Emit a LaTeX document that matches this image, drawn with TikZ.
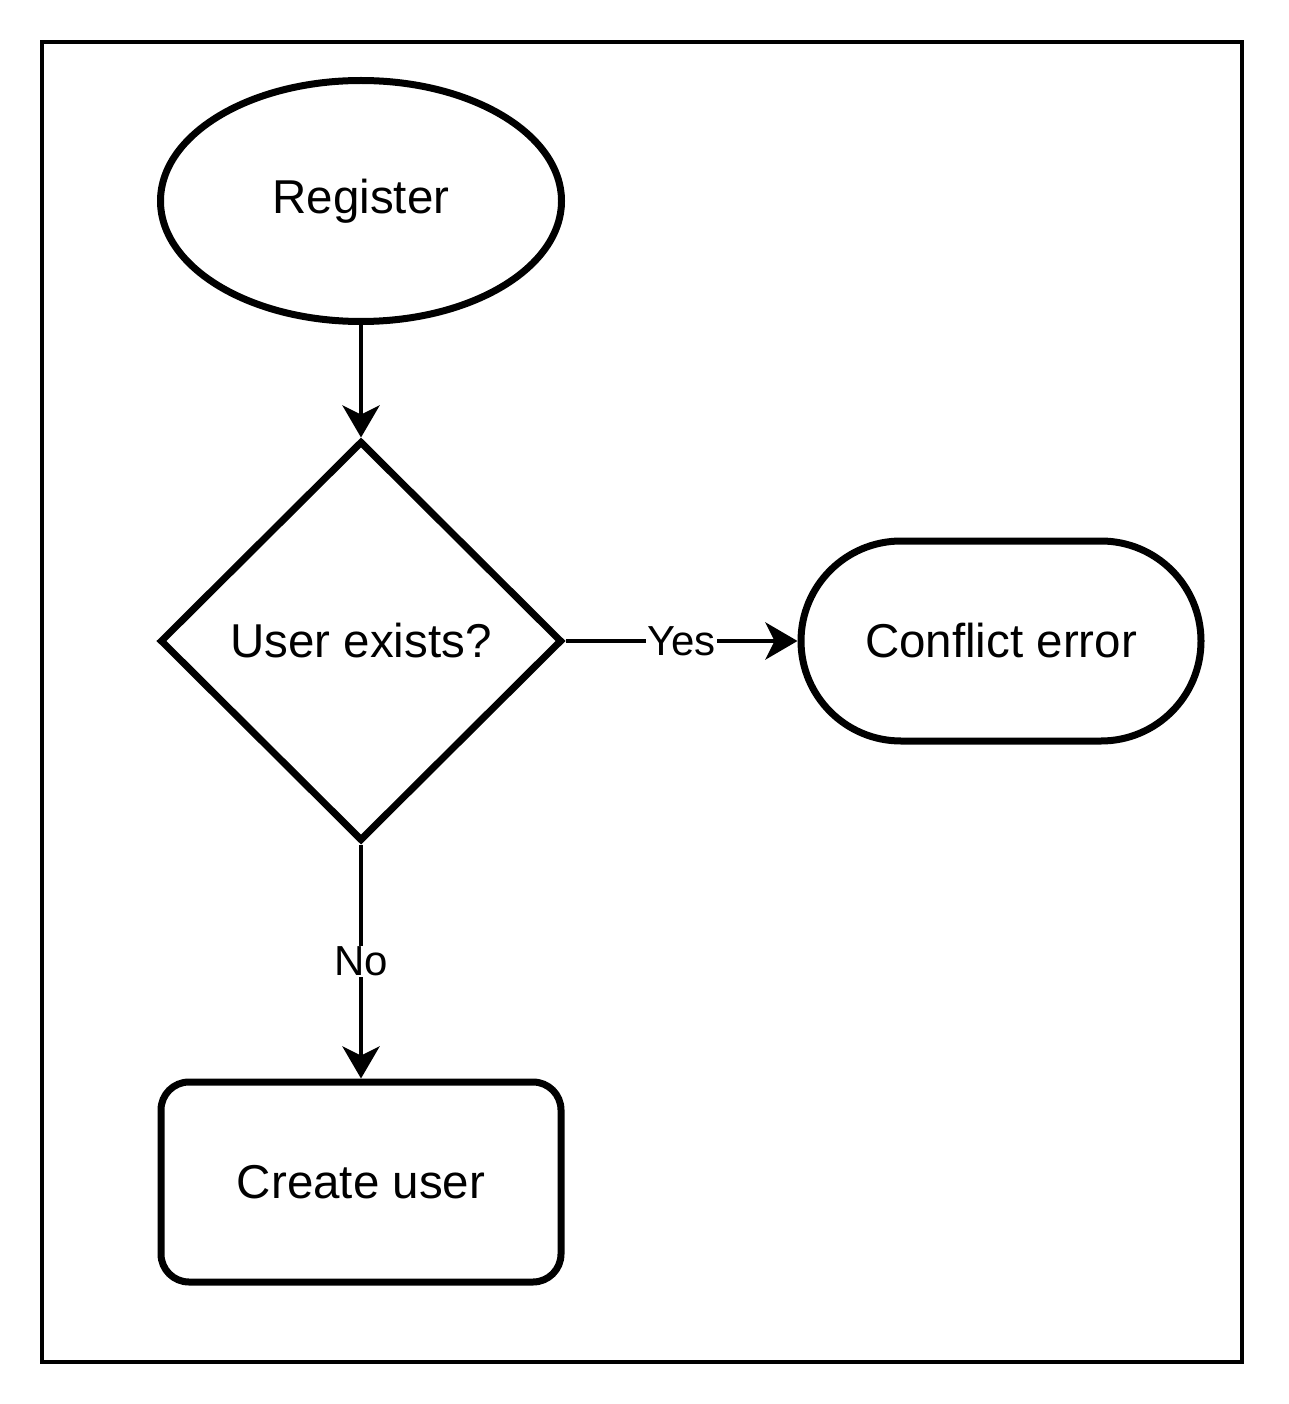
\documentclass[tikz,border=0pt]{standalone}
\usepackage{fontspec}
\setmainfont{Liberation Sans}
\usetikzlibrary{arrows.meta,shapes.geometric}
\begin{document}
\begin{tikzpicture}[x=1pt,y=-1pt,
  shapeline/.style={draw=black,line width=7pt,inner sep=0pt,font=\fontsize{47.5}{56}\selectfont},
  arr/.style={draw=black,line width=4.5pt,-{Stealth[length=32pt,width=37pt,inset=9pt]}},
  lbl/.style={fill=white,inner sep=1pt,font=\fontsize{42}{50}\selectfont}]
\useasboundingbox (0,0) rectangle (1288,1404);
\draw[line width=4pt] (42,42) rectangle (1242,1362);
\node[shapeline,ellipse,minimum width=401pt,minimum height=241pt] (reg) at (361,201) {Register};
\node[shapeline,diamond,minimum width=402pt,minimum height=400pt] (dec) at (361,641) {User exists?};
\node[shapeline,rectangle,rounded corners=100pt,minimum width=400pt,minimum height=200pt] (err) at (1001,641) {Conflict error};
\node[shapeline,rectangle,rounded corners=28pt,minimum width=400pt,minimum height=200pt] (cre) at (361,1182) {Create user};
\draw[arr] (reg.south) -- (dec.north);
\draw[arr] (dec.east) -- node[lbl] {Yes} (err.west);
\draw[arr] (dec.south) -- node[lbl] {No} (cre.north);
\end{tikzpicture}
\end{document}
